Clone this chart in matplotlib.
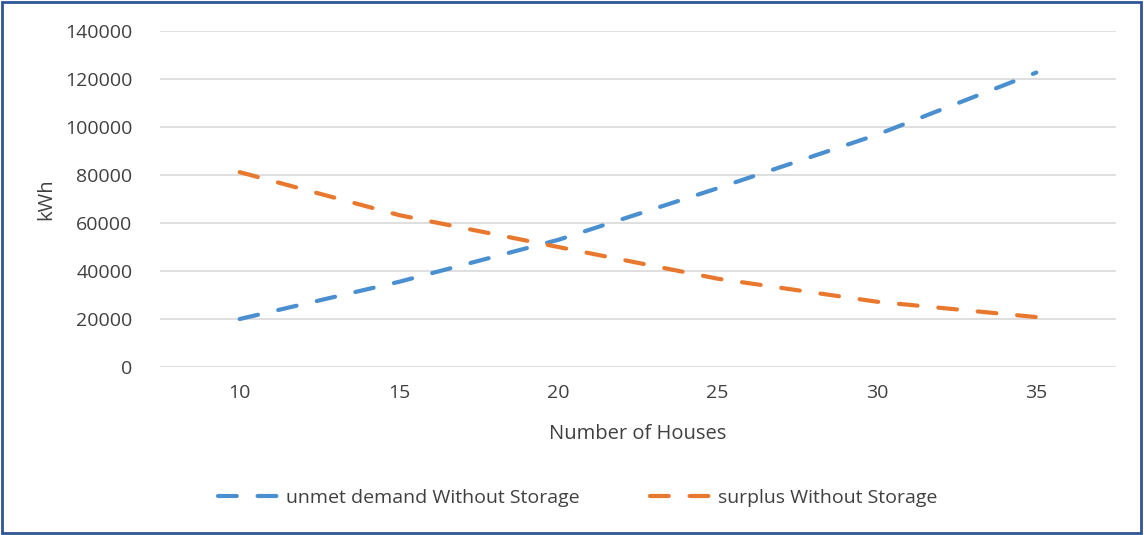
import matplotlib
matplotlib.use('Agg')
import matplotlib.pyplot as plt
from matplotlib.patches import Rectangle

# ── Data ───────────────────────────────────────────────────────────────────
houses = ['10', '15', '20', '25', '30', '35']
unmet_demand = [20000, 35500, 53000, 74500, 96800, 122700]
surplus = [81200, 63300, 50000, 36800, 27200, 20800]
y_ticks = [0, 20000, 40000, 60000, 80000, 100000, 120000, 140000]

C_BLUE = '#4A8FCF'
C_ORANGE = '#E8782E'
C_TEXT = '#404040'
C_GRID = '#D9D9D9'

plt.rcParams['font.family'] = ['Open Sans', 'DejaVu Sans']

fig = plt.figure(figsize=(11.44, 5.35), dpi=100)
ax = fig.add_axes([0.1399, 0.314, 0.8356, 0.628])

x = range(len(houses))
dash = (4.5, 5.0)
ax.plot(x, unmet_demand, color=C_BLUE, lw=3, dashes=dash,
        dash_capstyle='round', label='unmet demand Without Storage', zorder=3)
ax.plot(x, surplus, color=C_ORANGE, lw=3, dashes=dash,
        dash_capstyle='round', label='surplus Without Storage', zorder=3)

ax.set_xlim(-0.5, len(houses) - 0.5)
ax.set_ylim(0, 140000)
ax.set_xticks(list(x))
ax.set_xticklabels(houses)
ax.set_yticks(y_ticks)
ax.set_yticklabels([str(v) for v in y_ticks])
ax.tick_params(length=0, labelsize=14, colors=C_TEXT, pad=12)
ax.tick_params(axis='y', pad=20)
ax.grid(axis='y', color=C_GRID, lw=1.2, zorder=0)
for s in ax.spines.values():
    s.set_visible(False)

ax.set_xlabel('Number of Houses', fontsize=14.5, color=C_TEXT, labelpad=16)
ax.set_ylabel('kWh', fontsize=14.5, color=C_TEXT, labelpad=6)

fig.legend(loc='center', bbox_to_anchor=(0.505, 0.069), ncol=2, frameon=False,
           fontsize=14, handlelength=3.2, columnspacing=3.6,
           labelcolor=C_TEXT, handletextpad=0.3)

# frame round the whole chart
fig.patches.append(Rectangle((0.002, 0.003), 0.995, 0.993, transform=fig.transFigure,
                             fill=False, edgecolor='#2F5597', lw=2))

fig.savefig('out.png', dpi=100, facecolor='white')
